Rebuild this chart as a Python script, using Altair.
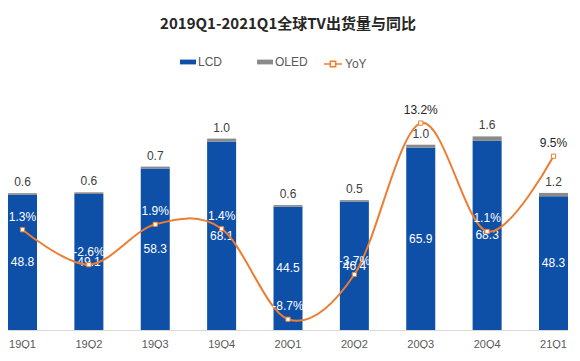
import altair as alt
import pandas as pd

quarters = ["19Q1", "19Q2", "19Q3", "19Q4", "20Q1", "20Q2", "20Q3", "20Q4", "21Q1"]
lcd = [48.8, 49.1, 58.3, 68.1, 44.5, 46.4, 65.9, 68.3, 48.3]
oled = [0.6, 0.6, 0.7, 1.0, 0.6, 0.5, 1.0, 1.6, 1.2]
yoy = [1.3, -2.6, 1.9, 1.4, -8.7, -3.7, 13.2, 1.1, 9.5]

BLUE = "#0E4FA8"
GRAY = "#8A8A8A"
ORANGE = "#ED7D31"

df = pd.DataFrame({"q": quarters, "LCD": lcd, "OLED": oled, "YoY": yoy})
df["total"] = df["LCD"] + df["OLED"]
df["lcd_mid"] = df["LCD"] / 2
df["yoy_label"] = df["YoY"].map(lambda v: f"{v:.1f}%")
df["series"] = "YoY"

long = df.melt(id_vars=["q"], value_vars=["LCD", "OLED"], var_name="type", value_name="v")
long["order"] = long["type"].map({"LCD": 0, "OLED": 1})

xenc = alt.X("q:N", sort=quarters,
             scale=alt.Scale(paddingInner=0.563, paddingOuter=0),
             axis=alt.Axis(title=None, labelAngle=0, ticks=False, domainColor="#D9D9D9",
                           labelColor="#595959", labelFontSize=11, labelPadding=8,
                           labelFont="Liberation Sans"))

Y1 = alt.Scale(domain=[0, 89.9], nice=False, zero=False)
Y2 = alt.Scale(domain=[-9.9, 17.9], nice=False, zero=False)

bars = alt.Chart(long).mark_bar().encode(
    x=xenc,
    y=alt.Y("v:Q", stack="zero", scale=Y1, axis=None),
    fill=alt.Fill("type:N", scale=alt.Scale(domain=["LCD", "OLED"], range=[BLUE, GRAY]),
                  legend=alt.Legend(title=None, orient="none", direction="horizontal",
                                    legendX=172, legendY=-27,
                                    symbolType="M-1,-0.3H1V0.3H-1Z", symbolSize=256,
                                    symbolStrokeWidth=0, labelFontSize=12,
                                    labelColor="#595959", labelOffset=2, columnPadding=34,
                                    labelFont="Liberation Sans")),
    order=alt.Order("order:Q"),
)

base = alt.Chart(df)

lcd_text = base.mark_text(color="white", fontSize=12, font="Liberation Sans").encode(
    x=alt.X("q:N", sort=quarters), y=alt.Y("lcd_mid:Q", scale=Y1, axis=None),
    text=alt.Text("LCD:Q", format=".1f"))

oled_text = base.mark_text(color="#404040", fontSize=12, baseline="bottom", dy=-4,
                           font="Liberation Sans").encode(
    x=alt.X("q:N", sort=quarters), y=alt.Y("total:Q", scale=Y1, axis=None),
    text=alt.Text("OLED:Q", format=".1f"))

line = base.mark_line(interpolate="cardinal", strokeWidth=2).encode(
    x=alt.X("q:N", sort=quarters), y=alt.Y("YoY:Q", scale=Y2, axis=None),
    stroke=alt.Stroke("series:N", scale=alt.Scale(domain=["YoY"], range=[ORANGE]),
                      legend=alt.Legend(title=None, orient="none", legendX=315, legendY=-27,
                                        symbolType="M-1,0H-0.3M0.3,0H1M-0.3,-0.3H0.3V0.3H-0.3Z",
                                        symbolSize=324, symbolStrokeWidth=1.5,
                                        symbolFillColor="white", labelFontSize=12,
                                        labelColor="#595959", labelOffset=2,
                                        labelFont="Liberation Sans")))

pts = base.mark_point(shape="square", size=18, filled=True, fill="white",
                      stroke=ORANGE, strokeWidth=1, opacity=1).encode(
    x=alt.X("q:N", sort=quarters), y=alt.Y("YoY:Q", scale=Y2, axis=None))

yoy_text = base.mark_text(fontSize=12, baseline="bottom", dy=-6,
                          font="Liberation Sans").encode(
    x=alt.X("q:N", sort=quarters), y=alt.Y("YoY:Q", scale=Y2, axis=None),
    text="yoy_label:N",
    color=alt.condition("datum.YoY > 5", alt.value("#262626"), alt.value("white")))

left = alt.layer(bars, lcd_text, oled_text)
right = alt.layer(line, pts, yoy_text)

chart = alt.layer(left, right).resolve_scale(y="independent").properties(
    width=560, height=249,
    padding={"top": 9, "left": 0, "right": 0, "bottom": 0},
    title=alt.TitleParams("2019Q1-2021Q1全球TV出货量与同比", fontSize=15, fontWeight="bold",
                          color="#262626", anchor="middle", offset=22,
                          font="Noto Sans CJK SC"),
).configure_view(stroke=None)

chart.save("out.html", embed_options={"renderer": "svg", "actions": False})
